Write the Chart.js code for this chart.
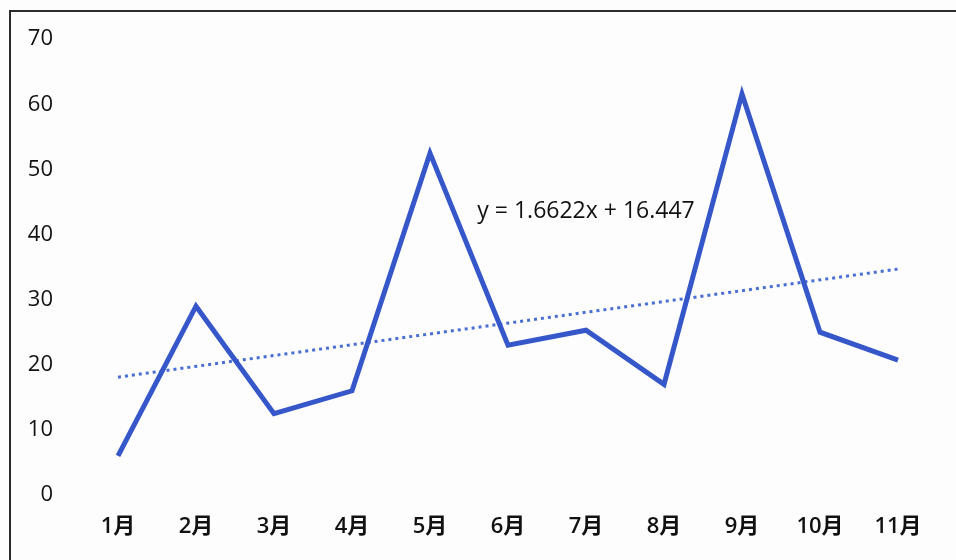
<!DOCTYPE html>
<html>
<head>
<meta charset="utf-8">
<script src="https://cdn.jsdelivr.net/npm/chart.js@4.4.1/dist/chart.umd.min.js"></script>
<style>
  html, body { margin: 0; padding: 0; background: #fdfdfd; }
  #wrap { position: relative; width: 956px; height: 560px; overflow: hidden; }
  #frame { position: absolute; left: 9px; top: 10px; right: -5px; bottom: -5px;
           border-top: 2px solid #2b2b2b; border-left: 2px solid #2b2b2b; }
  canvas { position: absolute; left: 0; top: 0; }
</style>
</head>
<body>
<div id="wrap">
  <div id="frame"></div>
  <canvas id="chart" width="956" height="560"></canvas>
</div>
<script>
// months on the x axis
var months = ['1月', '2月', '3月', '4月', '5月', '6月', '7月', '8月', '9月', '10月', '11月'];
// values
var values = [6, 29, 12.5, 16, 52.5, 23, 25.3, 17, 61.6, 25, 20.7];
// linear trend line, only its two ends (gaps are spanned)
var trend = [18.1, null, null, null, null, null, null, null, null, null, 34.7];
var trendLabel = 'y = 1.6622x + 16.447';
var yTicks = [0, 10, 20, 30, 40, 50, 60, 70];

var FONT = '"Open Sans", "Noto Sans CJK SC", sans-serif';

// draws the trend equation near the 7th category
var equationPlugin = {
    id: 'equation',
    afterDatasetsDraw: function(chart) {
        var c = chart.ctx;
        var x = chart.scales.x.getPixelForValue(6);
        var y = chart.scales.y.getPixelForValue(43.5);
        c.save();
        c.font = '23px ' + FONT;
        c.fillStyle = '#111';
        c.textAlign = 'center';
        c.textBaseline = 'middle';
        c.fillText(trendLabel, x, y);
        c.restore();
    }
};

new Chart(document.getElementById('chart').getContext('2d'), {
    type: 'line',
    data: {
        labels: months,
        datasets: [{
            label: 'value',
            data: values,
            borderColor: '#3657c9',
            borderWidth: 5,
            pointRadius: 0,
            tension: 0,
            borderJoinStyle: 'miter'
        }, {
            label: 'trend',
            data: trend,
            spanGaps: true,
            borderColor: '#4a6fd4',
            borderWidth: 3,
            borderDash: [3, 4],
            pointRadius: 0
        }]
    },
    options: {
        responsive: false,
        animation: false,
        layout: { padding: { top: 38, right: 19, left: 0, bottom: 0 } },
        plugins: { legend: { display: false }, tooltip: { enabled: false } },
        scales: {
            x: {
                offset: true,
                grid: { display: false, drawTicks: false },
                border: { display: false },
                ticks: { font: { size: 22, family: FONT, weight: '600' }, color: '#111', padding: 19, maxRotation: 0 },
                afterFit: function(s) { s.height = 65; }
            },
            y: {
                min: 0, max: 70,
                grid: { display: false, drawTicks: false },
                border: { display: false },
                afterBuildTicks: function(s) { s.ticks = yTicks.map(function(v) { return { value: v }; }); },
                ticks: { font: { size: 22, family: FONT }, color: '#111', padding: 26 },
                afterFit: function(s) { s.width = 79; }
            }
        }
    },
    plugins: [equationPlugin]
});
</script>
</body>
</html>
